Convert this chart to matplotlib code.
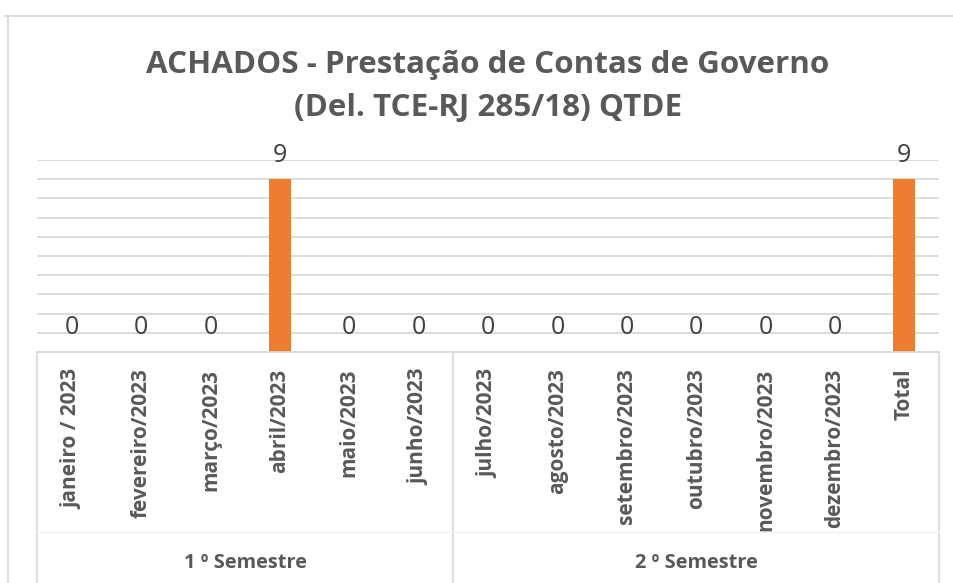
import matplotlib
matplotlib.use("Agg")
import matplotlib.pyplot as plt
from matplotlib.lines import Line2D

plt.rcParams['font.family'] = ['Open Sans', 'DejaVu Sans']

categorias = ["janeiro / 2023", "fevereiro/2023", "março/2023", "abril/2023",
              "maio/2023", "junho/2023", "julho/2023", "agosto/2023",
              "setembro/2023", "outubro/2023", "novembro/2023", "dezembro/2023",
              "Total"]
valores = [0, 0, 0, 9, 0, 0, 0, 0, 0, 0, 0, 0, 9]
grupos = ["1 º Semestre", "2 º Semestre"]
grupo_limites = [(-0.5, 5.5), (5.5, 12.5)]

titulo = ["ACHADOS - Prestação de Contas de Governo", "(Del. TCE-RJ 285/18) QTDE"]

W, H = 954, 583
fig = plt.figure(figsize=(W / 100, H / 100), dpi=100)
ax = fig.add_axes([37 / W, 1 - 352 / H, (939 - 37) / W, (352 - 160) / H])

cinza = '#d9d9d9'
x = range(len(categorias))
ax.bar(x, valores, width=0.32, color='#ED7D31', zorder=3)
ax.set_xlim(-0.5, len(categorias) - 0.5)
ax.set_ylim(0, 10)
ax.set_yticks(range(0, 11))
ax.set_yticklabels([])
ax.tick_params(axis='y', length=0)
ax.yaxis.grid(True, color=cinza, linewidth=1.3)
ax.set_axisbelow(True)
for s in ['top', 'right', 'left']:
    ax.spines[s].set_visible(False)
ax.spines['bottom'].set_color(cinza)
ax.spines['bottom'].set_linewidth(1.3)
ax.spines['bottom'].set_zorder(4)

ax.set_xticks(list(x))
ax.set_xticklabels(categorias, rotation=90, va='top', fontsize=15,
                   fontweight='bold', color='#595959')
ax.tick_params(axis='x', length=0, pad=12)

for i, v in enumerate(valores):
    ax.annotate(str(v), (i, v), xytext=(0, 17.3), textcoords='offset points',
                ha='center', va='center', fontsize=18, color='#404040')

# linhas das categorias e grupos abaixo do eixo
tr = ax.get_xaxis_transform()
ax_h = 352 - 160
y_fim = (352 - H) / ax_h
y_sep = (352 - 532) / ax_h
for xv in [-0.5, 5.5, 12.5]:
    ax.add_line(Line2D([xv, xv], [0, y_fim], transform=tr, color=cinza,
                       linewidth=1.3, clip_on=False))
ax.add_line(Line2D([-0.5, 12.5], [y_sep, y_sep], transform=tr, color='#f2f2f2',
                   linewidth=1.0, clip_on=False))
for nome, (a, b) in zip(grupos, grupo_limites):
    ax.text((a + b) / 2, (352 - 563) / ax_h, nome, transform=tr, ha='center',
            va='center', fontsize=14.4, fontweight='bold', color='#595959')

# borda do gráfico
fig.add_artist(Line2D([5 / W, 1], [1 - 16 / H, 1 - 16 / H], color=cinza, linewidth=1.3))
fig.add_artist(Line2D([8 / W, 8 / W], [0, 1 - 16 / H], color=cinza, linewidth=1.3))

# título em duas linhas (linhas de base em 73 e 116 px)
for linha, yb in zip(titulo, [73, 116]):
    fig.text(488 / W, 1 - yb / H, linha, ha='center', va='baseline', fontsize=22.6,
             fontweight='bold', color='#595959')

fig.savefig("out.png", dpi=100)
